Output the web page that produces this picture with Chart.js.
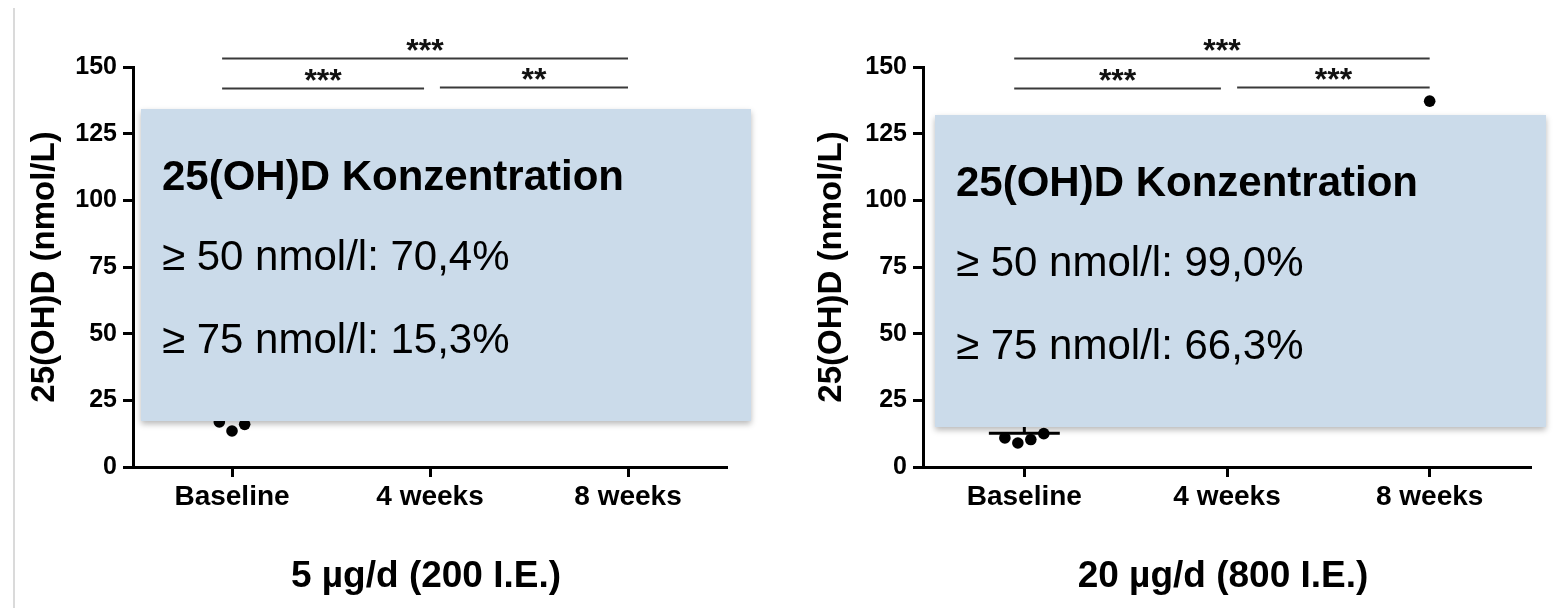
<!DOCTYPE html>
<html>
<head>
<meta charset="utf-8">
<script src="https://cdn.jsdelivr.net/npm/chart.js@4.4.0/dist/chart.umd.min.js"></script>
<style>
  html, body { margin: 0; padding: 0; background: #fff; }
  body { width: 1559px; height: 608px; position: relative; overflow: hidden; }
  .panel { position: absolute; top: 0; height: 608px; }
  #p1 { left: 0; width: 780px; }
  #p2 { left: 780px; width: 779px; }
  .edge { position: absolute; left: 13px; top: 8px; bottom: 0; width: 2px; background: #dadada; }
</style>
</head>
<body>
<div class="edge"></div>
<div class="panel" id="p1"><canvas id="c1"></canvas></div>
<div class="panel" id="p2"><canvas id="c2"></canvas></div>
<script>
// Shared axis content
const categories = ['Baseline', '4 weeks', '8 weeks'];
const axisTitle = '25(OH)D (nmol/L)';
const boxTitle = '25(OH)D Konzentration';
const thresholds = ['≥ 50 nmol/l: ', '≥ 75 nmol/l: '];

// 5 µg/d group: individual values (nmol/L) per time point
const lowBaseline = [16.9, 13.5, 16.0];
const lowWeek4 = [];
const lowWeek8 = [];
const lowStars = ['***', '***', '**'];      // Baseline–8 w, Baseline–4 w, 4 w–8 w
const lowShares = ['70,4%', '15,3%'];
const lowCaption = '5 µg/d (200 I.E.)';

// 20 µg/d group
const highBaseline = [10.9, 9.0, 10.3, 12.5];
const highBaselineMean = 12.7;
const highBaselineSdUpper = 17.5;
const highWeek4 = [];
const highWeek8 = [137.2];
const highStars = ['***', '***', '***'];
const highShares = ['99,0%', '66,3%'];
const highCaption = '20 µg/d (800 I.E.)';

const FONT = '"Liberation Sans", Arial, Helvetica, sans-serif';
Chart.defaults.font.family = FONT;
Chart.defaults.color = '#000';

// Column-scatter points: spread each group's dots sideways around its category
function columnPoints(groups) {
  const pts = [];
  groups.forEach((vals, g) => {
    vals.forEach((v, i) => {
      pts.push({ x: g + (i - (vals.length - 1) / 2) * 0.064, y: v });
    });
  });
  return pts;
}

// Info panel, significance brackets and caption
const overlayPlugin = {
  id: 'overlay',
  afterDatasetsDraw(chart, args, o) {
    const ctx = chart.ctx;
    const b = o.box;
    ctx.save();
    ctx.shadowColor = 'rgba(0,0,0,0.28)';
    ctx.shadowBlur = 6;
    ctx.shadowOffsetY = 3;
    ctx.fillStyle = '#cbdbea';
    ctx.fillRect(b.left, b.top, b.right - b.left, b.bottom - b.top);
    ctx.restore();

    ctx.save();
    ctx.fillStyle = '#000';
    ctx.textAlign = 'left';
    ctx.textBaseline = 'alphabetic';
    ctx.font = 'bold 42px ' + FONT;
    ctx.fillText(o.title, b.left + 21, b.top + 81);
    ctx.font = '42px ' + FONT;
    o.lines.forEach((t, i) => ctx.fillText(t, b.left + 21, b.top + 161 + i * 83));
    ctx.restore();
  },
  afterDraw(chart, args, o) {
    const ctx = chart.ctx;
    const xs = chart.scales.x, ys = chart.scales.y;
    ctx.save();
    ctx.strokeStyle = '#3a3a3a';
    ctx.lineWidth = 2;
    ctx.fillStyle = '#111';
    ctx.textAlign = 'center';
    ctx.textBaseline = 'alphabetic';
    ctx.font = 'bold 32px ' + FONT;
    o.brackets.forEach(br => {
      const x1 = xs.getPixelForValue(br.from), x2 = xs.getPixelForValue(br.to);
      const y = Math.round(ys.getPixelForValue(br.level)) + 0.5;
      ctx.beginPath();
      ctx.moveTo(x1, y);
      ctx.lineTo(x2, y);
      ctx.stroke();
      ctx.fillText(br.stars, (x1 + x2) / 2, y + 2);
    });
    ctx.font = 'bold 37px ' + FONT;
    ctx.fillStyle = '#000';
    const a = chart.chartArea;
    ctx.fillText(o.caption, (a.left + a.right) / 2 - 4, 587);
    ctx.restore();
  }
};

function bracketsFor(stars) {
  return [
    { from: -0.05, to: 2.0, level: 153.3, stars: stars[0] },
    { from: -0.05, to: 0.97, level: 142.3, stars: stars[1] },
    { from: 1.05, to: 2.0, level: 142.6, stars: stars[2] }
  ];
}

function makeChart(id, cfg) {
  const datasets = [{
    type: 'scatter',
    label: 'Einzelwerte',
    data: columnPoints(cfg.groups),
    pointRadius: 5.8,
    pointHoverRadius: 5.8,
    pointBackgroundColor: '#000',
    pointBorderWidth: 0
  }];
  (cfg.summaries || []).forEach(s => {
    datasets.push({
      type: 'line', label: 'Mittelwert', parsing: false,
      data: [{ x: s.cat - 0.175, y: s.mean }, { x: s.cat + 0.175, y: s.mean }],
      borderColor: '#000', borderWidth: 3, pointRadius: 0
    });
    datasets.push({
      type: 'line', label: 'SD', parsing: false,
      data: [{ x: s.cat, y: s.mean }, { x: s.cat, y: s.sdUpper }],
      borderColor: '#000', borderWidth: 3, pointRadius: 0
    });
  });

  return new Chart(document.getElementById(id), {
    type: 'scatter',
    data: { datasets },
    options: {
      responsive: true,
      maintainAspectRatio: false,
      animation: false,
      devicePixelRatio: 1,
      layout: { padding: cfg.padding },
      plugins: {
        legend: { display: false },
        tooltip: { enabled: false },
        overlay: {
          box: cfg.box,
          title: boxTitle,
          lines: thresholds.map((t, i) => t + cfg.shares[i]),
          brackets: bracketsFor(cfg.stars),
          caption: cfg.caption
        }
      },
      scales: {
        x: {
          type: 'linear', min: -0.5, max: 2.5,
          afterBuildTicks: s => { s.ticks = categories.map((c, i) => ({ value: i })); },
          afterFit: s => { s.height = 141; },
          ticks: {
            callback: v => categories[v],
            font: { size: 28, weight: 'bold' }, color: '#000',
            padding: 3, autoSkip: false, maxRotation: 0
          },
          grid: { drawOnChartArea: false, drawTicks: true, tickLength: 10, tickWidth: 3, tickColor: '#000' },
          border: { display: true, color: '#000', width: 3 }
        },
        y: {
          min: 0, max: 150,
          afterFit: s => { s.width = cfg.yWidth; },
          ticks: { stepSize: 25, font: { size: 25, weight: 'bold' }, color: '#000', padding: 6 },
          grid: { drawOnChartArea: false, drawTicks: true, tickLength: 10, tickWidth: 3, tickColor: '#000' },
          border: { display: true, color: '#000', width: 3 },
          title: { display: true, text: axisTitle, font: { size: 33, weight: 'bold' }, color: '#000', padding: 0 }
        }
      }
    },
    plugins: [overlayPlugin]
  });
}

makeChart('c1', {
  groups: [lowBaseline, lowWeek4, lowWeek8],
  stars: lowStars, shares: lowShares, caption: lowCaption,
  padding: { left: 25, right: 53, top: 67, bottom: 0 }, yWidth: 108,
  box: { left: 141, top: 109, right: 751, bottom: 421 }
});

makeChart('c2', {
  groups: [highBaseline, highWeek4, highWeek8],
  summaries: [{ cat: 0, mean: highBaselineMean, sdUpper: highBaselineSdUpper }],
  stars: highStars, shares: highShares, caption: highCaption,
  padding: { left: 32, right: 28, top: 67, bottom: 0 }, yWidth: 111,
  box: { left: 155, top: 115, right: 766, bottom: 427 }
});
</script>
</body>
</html>
